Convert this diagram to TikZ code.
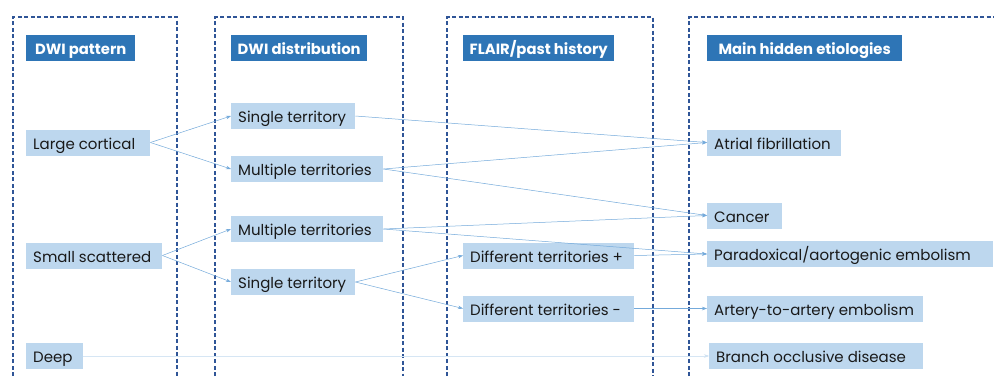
\documentclass[tikz,border=0pt]{standalone}
\usepackage{fontspec}
\setmainfont{Poppins}
\usetikzlibrary{arrows.meta}
\definecolor{hdr}{HTML}{2E75B6}
\definecolor{lbox}{HTML}{BDD7EE}
\definecolor{dashc}{HTML}{2F5597}
\definecolor{arr}{HTML}{5B9BD5}
\newcommand{\bxl}[2]{\makebox[#1pt][l]{#2}}
\newcommand{\bxc}[2]{\makebox[#1pt][c]{#2}}
\begin{document}
\begin{tikzpicture}[x=1pt,y=-1pt]
\tikzset{
 col/.style={draw=dashc, line width=1.6pt, dash pattern=on 4pt off 2.5pt},
 hd/.style={fill=hdr, text=white, font=\fontsize{14.8}{17}\selectfont\bfseries, minimum height=26pt, text height=15pt, text depth=2pt, inner xsep=7pt, inner ysep=0pt, anchor=west},
 lb/.style={fill=lbox, text=black!90, font=\fontsize{15}{18}\selectfont, minimum height=26pt, text height=15pt, text depth=2pt, inner xsep=7pt, inner ysep=0pt, anchor=west},
 con/.style={draw=arr!85, line width=0.5pt, -{Stealth[length=5pt,width=3.5pt]}},
 faint/.style={draw=arr!25, line width=0.5pt, -{Stealth[length=5pt,width=3.5pt,fill=arr!85]}},
}
\useasboundingbox (0,0) rectangle (994,376);
\fill[white] (0,0) rectangle (994,376);
% columns
\draw[col] (13,376) -- (13,17) -- (177,17) -- (177,376);
\draw[col] (215,376) -- (215,17) -- (403,17) -- (403,376);
\draw[col] (447,376) -- (447,17) -- (653,17) -- (653,376);
\draw[col] (689,376) -- (689,17) -- (994,17);
% headers
\node[hd] (h1) at (26,48) {\bxc{95}{DWI pattern}};
\node[hd] (h2) at (231,48) {\bxc{122}{DWI distribution}};
\node[hd] (h3) at (463,48) {\bxc{137}{FLAIR/past history}};
\node[hd] (h4) at (707,48) {\bxc{181}{Main hidden etiologies}};
% boxes
\node[lb] (lc) at (26,142.5) {\bxl{110}{Large cortical}};
\node[lb] (st1) at (231,116) {\bxl{110}{Single territory}};
\node[lb] (mt1) at (231,169) {\bxl{138}{Multiple territories}};
\node[lb] (af) at (707,142.5) {\bxl{120}{Atrial fibrillation}};
\node[lb] (ss) at (26,255.5) {\bxl{122}{Small scattered}};
\node[lb] (mt2) at (231,229) {\bxl{138}{Multiple territories}};
\node[lb] (st2) at (231,282) {\bxl{110}{Single territory}};
\node[lb] (dp) at (463,255.5) {\bxl{157}{Different territories +}};
\node[lb] (dm) at (463,308.5) {\bxl{157}{Different territories -}};
\node[lb] (de) at (26,356) {\bxl{43}{Deep}};
\node[lb] (ca) at (707,215.5) {\bxl{61}{Cancer}};
\node[lb] (pa) at (707,254) {\bxl{272}{Paradoxical/aortogenic embolism}};
\node[lb] (aa) at (707,308.5) {\bxl{202}{Artery-to-artery embolism}};
\node[lb] (bo) at (709,356) {\bxl{200}{Branch occlusive disease}};
% connectors
\draw[con] (lc.east) -- (st1.west);
\draw[con] (lc.east) -- (mt1.west);
\draw[con] (st1.east) -- (af.west);
\draw[con] (mt1.east) -- (af.west);
\draw[con] (mt1.east) -- (ca.west);
\draw[con] (mt2.east) -- (ca.west);
\draw[con] (mt2.east) -- (pa.west);
\draw[con] (ss.east) -- (mt2.west);
\draw[con] (ss.east) -- (st2.west);
\draw[con] (st2.east) -- (dp.west);
\draw[con] (st2.east) -- (dm.west);
\draw[con] (dp.east) -- (pa.west);
\draw[con] (dm.east) -- (aa.west);
\draw[faint] (de.east) -- (bo.west);
\end{tikzpicture}
\end{document}
